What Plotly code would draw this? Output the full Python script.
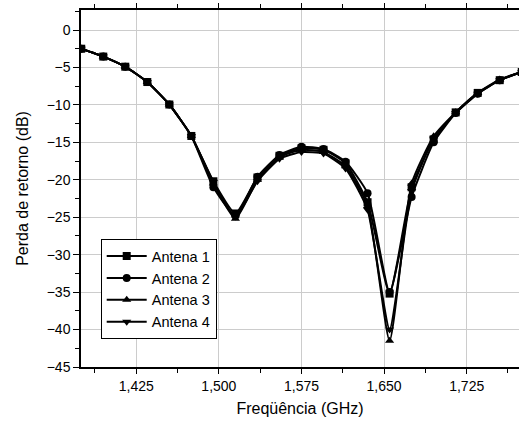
import plotly.graph_objects as go

freq = [1.375, 1.395, 1.415, 1.435, 1.455, 1.475, 1.495, 1.515, 1.535, 1.555, 1.575,
        1.595, 1.615, 1.635, 1.655, 1.675, 1.695, 1.715, 1.735, 1.755, 1.775]

antena1 = [-2.5, -3.55, -4.9, -6.95, -9.95, -14.15, -20.2, -24.5, -19.7, -16.8, -15.8,
           -16.0, -17.8, -23.0, -35.2, -21.0, -14.6, -11.0, -8.4, -6.7, -5.6]
antena2 = [-2.5, -3.55, -4.9, -6.95, -9.95, -14.15, -21.0, -24.8, -19.6, -16.7, -15.6,
           -15.9, -17.6, -21.8, -35.0, -22.3, -15.0, -11.1, -8.5, -6.7, -5.6]
antena3 = [-2.5, -3.55, -4.9, -6.95, -9.95, -14.15, -20.5, -25.2, -20.0, -17.0, -16.0,
           -16.3, -18.2, -23.5, -41.5, -20.5, -14.2, -11.0, -8.4, -6.6, -5.6]
antena4 = [-2.5, -3.55, -4.9, -6.95, -9.95, -14.15, -20.3, -24.9, -20.2, -17.2, -16.3,
           -16.5, -18.5, -24.0, -40.0, -21.5, -14.5, -11.1, -8.5, -6.7, -5.6]

names = ["Antena 1", "Antena 2", "Antena 3", "Antena 4"]
series = [antena1, antena2, antena3, antena4]
symbols = ["square", "circle", "triangle-up", "triangle-down"]

x_ticks = [1.425, 1.500, 1.575, 1.650, 1.725]
x_ticklabels = ["1,425", "1,500", "1,575", "1,650", "1,725"]
y_ticks = [0, -5, -10, -15, -20, -25, -30, -35, -40, -45]

FONT = "Liberation Sans, Arial, sans-serif"

fig = go.Figure()
for name, ys, sym in zip(names, series, symbols):
    fig.add_trace(go.Scatter(
        x=freq, y=ys, name=name, mode="lines+markers",
        line=dict(color="black", width=2, shape="spline", smoothing=0.5),
        marker=dict(symbol=sym, size=8, color="black"),
        cliponaxis=True,
    ))

fig.update_layout(
    width=519, height=421,
    margin=dict(l=81, r=0, t=10, b=54),
    paper_bgcolor="white", plot_bgcolor="white",
    font=dict(family=FONT, color="black", size=14),
    showlegend=True,
    legend=dict(
        x=0.045, y=0.358, xanchor="left", yanchor="top",
        bgcolor="white", bordercolor="black", borderwidth=1,
        font=dict(family=FONT, size=14.5, color="black"),
        tracegroupgap=0, itemwidth=40,
    ),
)

fig.update_xaxes(
    range=[1.3748, 1.7725],
    tickvals=x_ticks, ticktext=x_ticklabels,
    showgrid=True, gridcolor="#cccccc", gridwidth=1,
    showline=True, linecolor="black", linewidth=1.5, mirror="ticks",
    ticks="outside", ticklen=5, tickcolor="black", tickwidth=1,
    minor=dict(dtick=0.0375, tick0=1.3875, ticks="outside", ticklen=4, tickcolor="black", showgrid=False),
    zeroline=False,
    tickfont=dict(family=FONT, size=14),
    title=dict(text="Freqüência (GHz)", font=dict(family=FONT, size=16), standoff=10),
)
fig.update_yaxes(
    range=[-45, 2.67],
    tickvals=y_ticks,
    showgrid=True, gridcolor="#cccccc", gridwidth=1,
    showline=True, linecolor="black", linewidth=1.5, mirror=False,
    ticks="outside", ticklen=6, tickcolor="black", tickwidth=1,
    minor=dict(dtick=2.5, tick0=0, ticks="outside", ticklen=4, tickcolor="black", showgrid=False),
    zeroline=False,
    tickfont=dict(family=FONT, size=14),
    title=dict(text="Perda de retorno (dB)", font=dict(family=FONT, size=16), standoff=14),
)

fig.write_html("out.html")
